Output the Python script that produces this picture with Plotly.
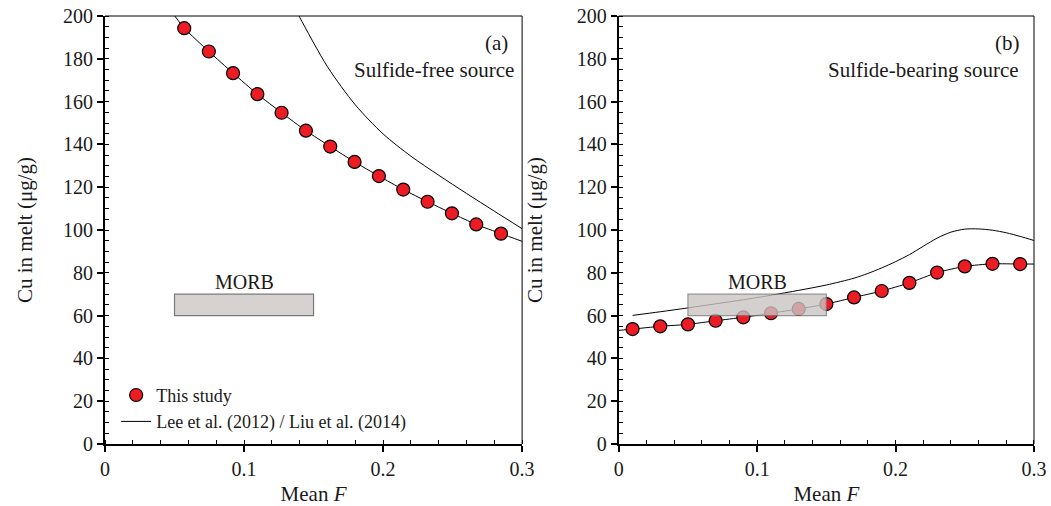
import plotly.graph_objects as go

# ---------------- data ----------------
# Panel (a): sulfide-free source
F_a = [0.0570, 0.0747, 0.0921, 0.1096, 0.1270, 0.1445, 0.1620, 0.1795,
       0.1970, 0.2145, 0.2320, 0.2495, 0.2670, 0.2848]
Cu_a = [194.3, 183.4, 173.3, 163.5, 154.8, 146.4, 139.0, 131.8,
        125.2, 118.9, 113.2, 107.8, 102.6, 98.3]
fit_a_F = [0.0502, 0.0570, 0.0747, 0.0921, 0.1096, 0.1270, 0.1445, 0.1620, 0.1795,
           0.1970, 0.2145, 0.2320, 0.2495, 0.2670, 0.2848, 0.3000]
fit_a_Cu = [200.0, 194.3, 183.4, 173.3, 163.5, 154.8, 146.4, 139.0, 131.8,
            125.2, 118.9, 113.2, 107.8, 102.6, 98.3, 94.7]
lee_a_F = [0.135, 0.14, 0.16, 0.18, 0.20, 0.22, 0.24, 0.26, 0.28, 0.30]
lee_a_Cu = [205.6, 199.4, 176.3, 158.5, 144.9, 134.5, 125.6, 117.1, 108.8, 100.6]

# Panel (b): sulfide-bearing source
F_b = [0.01, 0.03, 0.05, 0.07, 0.09, 0.11, 0.13, 0.15,
       0.17, 0.19, 0.21, 0.23, 0.25, 0.27, 0.29]
Cu_b = [53.7, 55.0, 55.9, 57.6, 59.2, 61.1, 63.1, 65.4,
        68.5, 71.5, 75.3, 80.1, 83.0, 84.2, 84.1]
fit_b_F = [0.00, 0.01, 0.03, 0.05, 0.07, 0.09, 0.11, 0.13, 0.15,
           0.17, 0.19, 0.21, 0.23, 0.25, 0.27, 0.29, 0.30]
fit_b_Cu = [53.1, 53.7, 55.0, 55.9, 57.6, 59.2, 61.1, 63.1, 65.4,
            68.5, 71.5, 75.3, 80.1, 83.0, 84.2, 84.1, 84.1]
lee_b_F = [0.01, 0.03, 0.05, 0.07, 0.09, 0.11, 0.13, 0.15, 0.17, 0.18,
           0.19, 0.20, 0.21, 0.22, 0.23, 0.24, 0.25, 0.26, 0.27, 0.28, 0.29, 0.30]
lee_b_Cu = [60.1, 61.8, 63.6, 65.5, 67.4, 69.5, 71.8, 74.3, 77.5, 79.7,
            82.3, 85.2, 88.5, 92.4, 96.2, 99.0, 100.4, 100.5, 99.9, 98.7, 97.0, 95.1]

# MORB range
morb_F = [0.05, 0.15]
morb_Cu = [60, 70]

x_ticks = [0, 0.1, 0.2, 0.3]
x_ticktext = ["0", "0.1", "0.2", "0.3"]
y_ticks = [0, 20, 40, 60, 80, 100, 120, 140, 160, 180, 200]

# ---------------- figure ----------------
FONT = "Liberation Serif, Times New Roman, serif"
RED = "#ED1C24"
TXT = "#1a1a1a"

fig = go.Figure()

def add_panel(xa, ya, fitF, fitCu, leeF, leeCu, pF, pCu, show_legend):
    fig.add_trace(go.Scatter(x=fitF, y=fitCu, mode="lines", xaxis=xa, yaxis=ya,
                             line=dict(color="black", width=1, shape="spline", smoothing=0.6),
                             showlegend=False, hoverinfo="skip"))
    fig.add_trace(go.Scatter(x=leeF, y=leeCu, mode="lines", xaxis=xa, yaxis=ya,
                             line=dict(color="black", width=1, shape="spline", smoothing=0.8),
                             name="Lee et al. (2012) / Liu et al. (2014)",
                             legendrank=2, showlegend=show_legend))
    fig.add_trace(go.Scatter(x=pF, y=pCu, mode="markers", xaxis=xa, yaxis=ya,
                             marker=dict(color=RED, size=13, line=dict(color="black", width=1.2)),
                             name="This study", legendrank=1, showlegend=show_legend))

add_panel("x", "y", fit_a_F, fit_a_Cu, lee_a_F, lee_a_Cu, F_a, Cu_a, True)
add_panel("x2", "y2", fit_b_F, fit_b_Cu, lee_b_F, lee_b_Cu, F_b, Cu_b, False)

axis_common = dict(showline=True, linecolor="black", linewidth=2, mirror=False,
                   showgrid=False, zeroline=False, ticks="outside", ticklen=6,
                   tickwidth=1.5, tickcolor="black", automargin=False,
                   tickfont=dict(family=FONT, size=20, color=TXT))

xcommon = dict(axis_common, range=[0, 0.3], tickvals=x_ticks, ticktext=x_ticktext,
               minor=dict(dtick=0.02, tick0=0, ticks="inside", ticklen=4, tickwidth=1,
                          tickcolor="black", showgrid=False),
               title=dict(text="Mean <i>F</i>", font=dict(family=FONT, size=21, color=TXT)))
ycommon = dict(axis_common, range=[0, 200], tickvals=y_ticks,
               minor=dict(dtick=5, tick0=0, ticks="inside", ticklen=4, tickwidth=1,
                          tickcolor="black", showgrid=False))

dom_a = [0.0, 0.449]
dom_b = [0.553, 1.0]

fig.update_layout(
    width=1051, height=506,
    margin=dict(l=105, r=17, t=16, b=62),
    paper_bgcolor="white", plot_bgcolor="white",
    font=dict(family=FONT, size=18, color=TXT),
    xaxis=dict(xcommon, domain=dom_a, anchor="y"),
    yaxis=dict(ycommon, domain=[0, 1], anchor="x"),
    xaxis2=dict(xcommon, domain=dom_b, anchor="y2"),
    yaxis2=dict(ycommon, domain=[0, 1], anchor="x2"),
    legend=dict(x=0.012, y=0.157, xanchor="left", yanchor="top",
                bgcolor="rgba(0,0,0,0)", font=dict(family=FONT, size=18, color=TXT),
                itemwidth=30, tracegroupgap=0),
    showlegend=True,
)

shapes = []
for xr, yr, op, fill in (("x", "y", 1.0, "#d6d2d2"), ("x2", "y2", 0.8, "#cbc5c5")):
    shapes.append(dict(type="rect", xref=xr, yref=yr, x0=morb_F[0], x1=morb_F[1],
                       y0=morb_Cu[0], y1=morb_Cu[1], fillcolor=fill, opacity=op,
                       line=dict(color="#7a7a7a", width=1.2), layer="above"))
    # thin top / right frame
    shapes.append(dict(type="line", xref=xr + " domain", yref=yr + " domain",
                       x0=0, x1=1, y0=1, y1=1, line=dict(color="black", width=1)))
    shapes.append(dict(type="line", xref=xr + " domain", yref=yr + " domain",
                       x0=1, x1=1, y0=0, y1=1, line=dict(color="black", width=1)))
fig.update_layout(shapes=shapes)

ann = []
for xr, yr, lab, txt, lab_x, txt_x in (("x", "y", "(a)", "Sulfide-free source", 0.2915, 0.2955),
                                       ("x2", "y2", "(b)", "Sulfide-bearing source", 0.2915, 0.2905)):
    ann.append(dict(xref=xr, yref=yr, x=lab_x, y=187.5, text=lab, showarrow=False,
                    xanchor="right", yanchor="middle", font=dict(family=FONT, size=21, color=TXT)))
    ann.append(dict(xref=xr, yref=yr, x=txt_x, y=174.8, text=txt, showarrow=False,
                    xanchor="right", yanchor="middle", font=dict(family=FONT, size=21, color=TXT)))
    ann.append(dict(xref=xr, yref=yr, x=0.1, y=75.5, text="MORB", showarrow=False,
                    xanchor="center", yanchor="middle", font=dict(family=FONT, size=20, color=TXT)))
# y-axis titles
for px in (25, 535):
    ann.append(dict(xref="paper", yref="paper", x=(px - 105) / 929, y=0.5,
                    text="Cu in melt (μg/g)", textangle=-90, showarrow=False,
                    xanchor="center", yanchor="middle",
                    font=dict(family=FONT, size=21, color=TXT)))
fig.update_layout(annotations=ann)

fig.write_html("out.html")
